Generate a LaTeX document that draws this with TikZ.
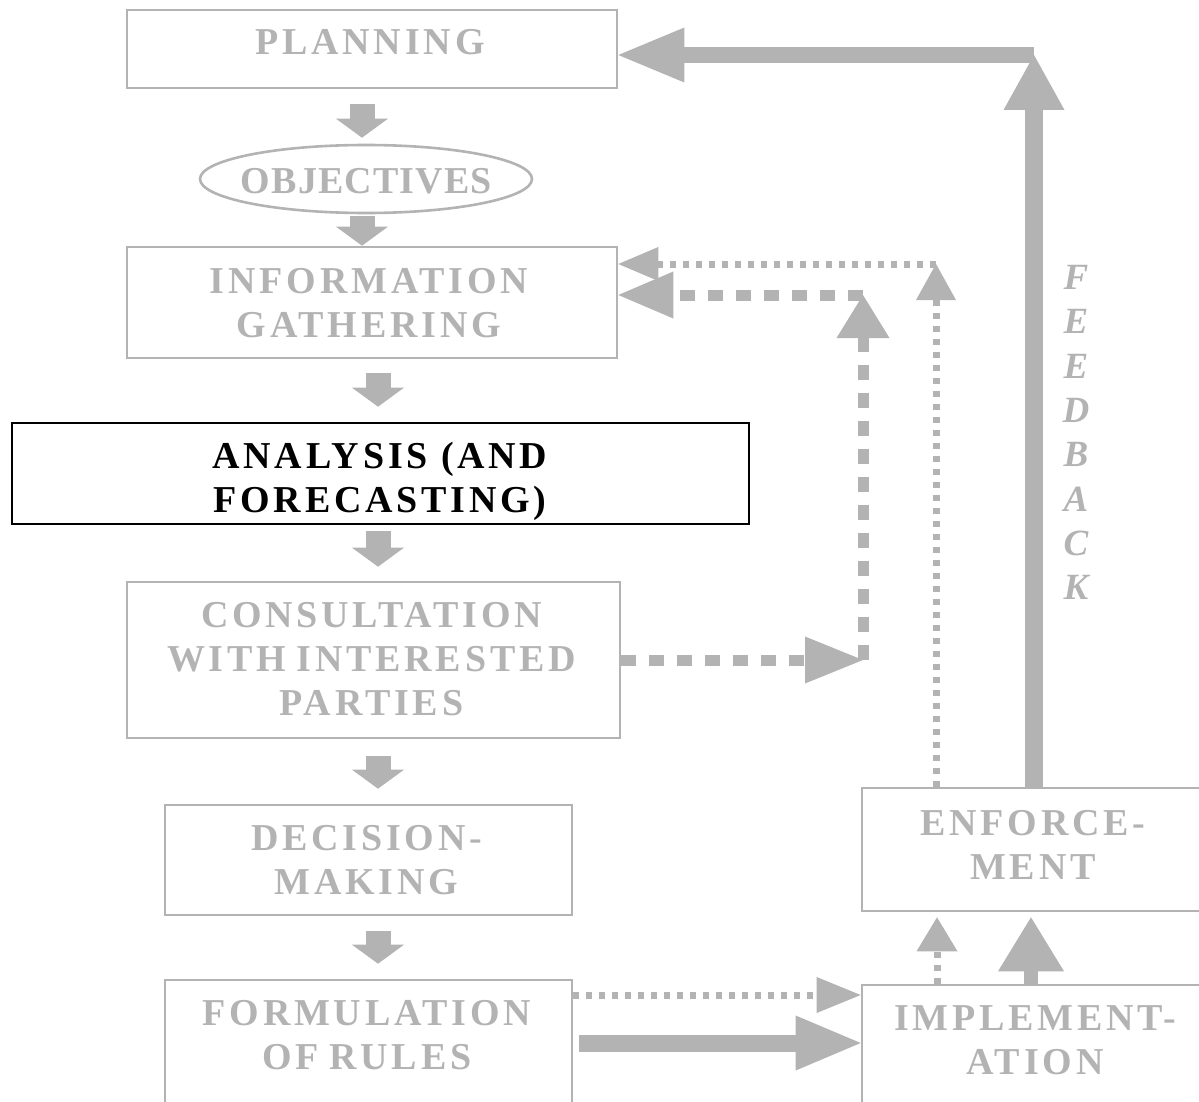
\documentclass[tikz,border=0pt]{standalone}
\usepackage{fontspec}
\setmainfont{Liberation Serif}
\newfontfamily\boxfont[LetterSpace=10]{Liberation Serif}
\newfontfamily\ovalfont[LetterSpace=3]{Liberation Serif}
\usetikzlibrary{arrows.meta,shapes.geometric}
\definecolor{grayline}{RGB}{179,179,179}

\begin{document}
\begin{tikzpicture}[x=1pt,y=-1pt,
  box/.style={draw=grayline, line width=2.6pt, rectangle, inner sep=0pt},
  lbl/.style={font=\boxfont\bfseries\fontsize{38}{44}\selectfont, text=grayline, align=center, inner sep=0pt},
  tipto/.style 2 args={-{Triangle[width=#1,length=#2,line width=0pt]}},
  blk/.style={draw=grayline, line width=25pt, tipto={52pt}{19pt}},
  dotline/.style={draw=grayline, line width=7pt, dash pattern=on 6pt off 7pt},
  dashline/.style={draw=grayline, line width=11pt, dash pattern=on 15pt off 13pt},
  solidline/.style={draw=grayline, line width=#1},
]
\useasboundingbox (0,0) rectangle (1199,1102);
\clip (0,0) rectangle (1199,1102);

% ---- boxes of the main column ----
\node[box, minimum width=490pt, minimum height=78pt] (plan) at (372,49) {};
\node[draw=grayline, line width=2.6pt, ellipse, inner sep=0pt,
      minimum width=332pt, minimum height=68pt] (obj) at (366,179) {};
\node[box, minimum width=490pt, minimum height=111pt] (info) at (372,302.5) {};
\node[draw=black, line width=2.6pt, rectangle, inner sep=0pt,
      minimum width=737pt, minimum height=101pt] (ana) at (380.5,473.5) {};
\node[box, minimum width=493pt, minimum height=156pt] (cons) at (373.5,660) {};
\node[box, minimum width=407pt, minimum height=110pt] (dec) at (368.5,860) {};
\node[box, minimum width=407pt, minimum height=150pt] (form) at (368.5,1055) {};

% ---- boxes on the right ----
\node[box, minimum width=353pt, minimum height=123pt] (enf) at (1038.5,849.5) {};
\node[box, minimum width=353pt, minimum height=145pt] (impl) at (1038.5,1057.5) {};

% ---- labels ----
\node[lbl] (plan-t) at (370,42.5) {PLANNING};
\node[lbl, font=\ovalfont\bfseries\fontsize{38}{44}\selectfont] (obj-t) at (366.5,181) {OBJECTIVES};
\node[lbl] (info-t) at (369,303) {INFORMATION\\GATHERING};
\node[lbl, text=black] (ana-t) at (380,481.5) {ANALYSIS (AND\\FORECASTING)};
\node[lbl] (cons-t) at (371.5,659.5) {CONSULTATION\\WITH\kern-3pt\ INTERESTED\\PARTIES};
\node[lbl] (dec-t) at (366.5,860) {DECISION-\\MAKING};
\node[lbl] (form-t) at (367,1035) {FORMULATION\\OF\kern-3pt\ RULES};
\node[lbl] (enf-t) at (1033,844.5) {ENFORCE-\\MENT};
\node[lbl] (impl-t) at (1035,1040.5) {IMPLEMENT-\\ATION};
\node[font=\bfseries\itshape\fontsize{37}{44.3}\selectfont, text=grayline,
      align=center, inner sep=0pt] (fb-t) at (1076,432.5)
      {F\\E\\E\\D\\B\\A\\C\\K};

% ---- corner points of the return paths ----
\coordinate (fbk) at (1034,55);
\coordinate (dotc) at (936,264);
\coordinate (dsh1) at (863,660);
\coordinate (dsh2) at (863,295);
\coordinate (lane1) at (0,995);
\coordinate (lane2) at (0,1043);
\coordinate (col1) at (937,0);
\coordinate (col2) at (1031,0);

% ---- downward block arrows of the main column ----
\draw[blk, shorten <=15pt, shorten >=6pt]
  ([xshift=-4pt]obj.north |- plan.south) -- ([xshift=-4pt]obj.north);
\draw[blk, shorten <=2pt]
  ([xshift=-4pt]obj.south) -- ([xshift=-4pt]obj.south |- info.north);
\draw[blk, shorten <=14pt, shorten >=15pt]
  ([xshift=6pt]info.south) -- ([xshift=6pt]info.south |- ana.north);
\draw[blk, shorten <=6pt, shorten >=14pt]
  ([xshift=-2.5pt]ana.south) -- ([xshift=-2.5pt]ana.south |- cons.north);
\draw[blk, shorten <=17pt, shorten >=15pt]
  ([xshift=4.5pt]cons.south) -- ([xshift=4.5pt]cons.south |- dec.north);
\draw[blk, shorten <=15pt, shorten >=15pt]
  ([xshift=9.5pt]dec.south) -- ([xshift=9.5pt]dec.south |- form.north);

% ---- feedback loop ----
\draw[solidline=18pt, tipto={61pt}{55pt}] (enf.north -| fbk) -- (fbk);
\draw[solidline=16pt, tipto={55pt}{66pt}] (fbk) -- (plan.east |- fbk);

% ---- dotted return to information gathering ----
\draw[dotline, tipto={40pt}{36pt}] (enf.north -| dotc) -- (dotc);
\draw[dotline, tipto={34pt}{40pt}] (dotc) -- (info.east |- dotc);

% ---- dashed path from consultation ----
\draw[dashline, tipto={47pt}{58pt}] (cons.east |- dsh1) -- (dsh1);
\draw[dashline, tipto={53pt}{43pt}] (dsh1) -- (dsh2);
\draw[dashline, tipto={47pt}{55pt}] (dsh2) -- (info.east |- dsh2);

% ---- formulation to implementation ----
\draw[dotline, tipto={36pt}{44pt}] (form.east |- lane1) -- (impl.west |- lane1);
\draw[solidline=17pt, tipto={55pt}{65pt}, shorten <=6pt]
  (form.east |- lane2) -- (impl.west |- lane2);

% ---- implementation to enforcement ----
\draw[dotline, tipto={41pt}{34pt}, shorten >=5pt] (impl.north -| col1) -- (enf.south -| col1);
\draw[solidline=14pt, tipto={66pt}{54pt}, shorten >=5pt] (impl.north -| col2) -- (enf.south -| col2);
\end{tikzpicture}
\end{document}
